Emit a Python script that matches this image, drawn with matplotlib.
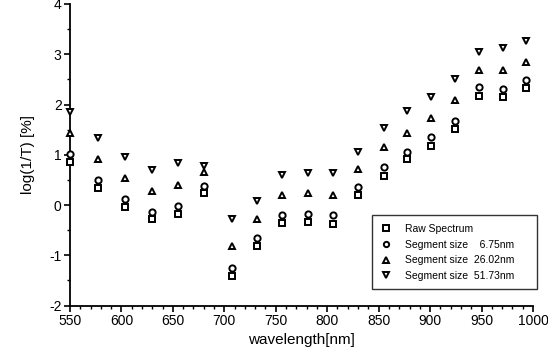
import matplotlib
matplotlib.use("Agg")
import matplotlib.pyplot as plt
from matplotlib.ticker import MultipleLocator

plt.rcParams['font.family'] = ['Liberation Sans', 'DejaVu Sans']
plt.rcParams['axes.unicode_minus'] = False

wavelength = [550, 577, 603, 630, 655, 680, 707, 732, 756, 781, 806, 830,
              855, 878, 901, 924, 948, 971, 993]
raw = [0.85, 0.34, -0.03, -0.28, -0.18, 0.23, -1.41, -0.81, -0.36, -0.33,
       -0.38, 0.20, 0.58, 0.91, 1.17, 1.51, 2.17, 2.15, 2.32]
seg_675 = [1.01, 0.50, 0.12, -0.13, -0.02, 0.38, -1.25, -0.65, -0.20, -0.17,
           -0.20, 0.35, 0.76, 1.06, 1.35, 1.68, 2.34, 2.31, 2.49]
seg_2602 = [1.43, 0.91, 0.53, 0.28, 0.40, 0.66, -0.82, -0.28, 0.20, 0.23,
            0.20, 0.72, 1.15, 1.43, 1.74, 2.09, 2.68, 2.68, 2.85]
seg_5173 = [1.85, 1.34, 0.96, 0.70, 0.84, 0.78, -0.28, 0.09, 0.60, 0.63,
            0.64, 1.06, 1.54, 1.87, 2.14, 2.50, 3.04, 3.12, 3.27]

labels = ["Raw Spectrum", "Segment size    6.75nm",
          "Segment size  26.02nm", "Segment size  51.73nm"]
series = [raw, seg_675, seg_2602, seg_5173]
markers = ['s', 'o', '^', 'v']

fig = plt.figure(figsize=(5.48, 3.56), dpi=100)
ax = fig.add_axes([0.1277, 0.1416, 0.8449, 0.8472])

for y, m, lab in zip(series, markers, labels):
    ax.plot(wavelength, y, linestyle='none', marker=m, markersize=4.5,
            markerfacecolor='white', markeredgecolor='black',
            markeredgewidth=1.4, label=lab, clip_on=False, zorder=3)

ax.set_xlim(550, 1000)
ax.set_ylim(-2, 4)
ax.xaxis.set_major_locator(MultipleLocator(50))
ax.xaxis.set_minor_locator(MultipleLocator(10))
ax.yaxis.set_major_locator(MultipleLocator(1))
ax.yaxis.set_minor_locator(MultipleLocator(0.5))
ax.spines['top'].set_visible(False)
ax.spines['right'].set_visible(False)
for s in ['left', 'bottom']:
    ax.spines[s].set_linewidth(1.3)
ax.tick_params(which='major', direction='out', length=4, width=1.2,
               labelsize=10, pad=2)
ax.tick_params(which='minor', direction='out', length=2, width=1.0)

ax.set_xlabel("wavelength[nm]", fontsize=11, labelpad=4)
ax.set_ylabel("log(1/T) [%]", fontsize=11, labelpad=10)

leg = ax.legend(loc='lower left', bbox_to_anchor=(0.652, 0.054, 0.356, 0.254),
                mode='expand', fontsize=7.5, frameon=True, fancybox=False,
                edgecolor='black', handlelength=1.2, handletextpad=1.2,
                borderpad=0.8, labelspacing=0.55, borderaxespad=0,
                markerscale=0.85)
leg.get_frame().set_linewidth(1.0)

fig.savefig("out.png", dpi=100)
